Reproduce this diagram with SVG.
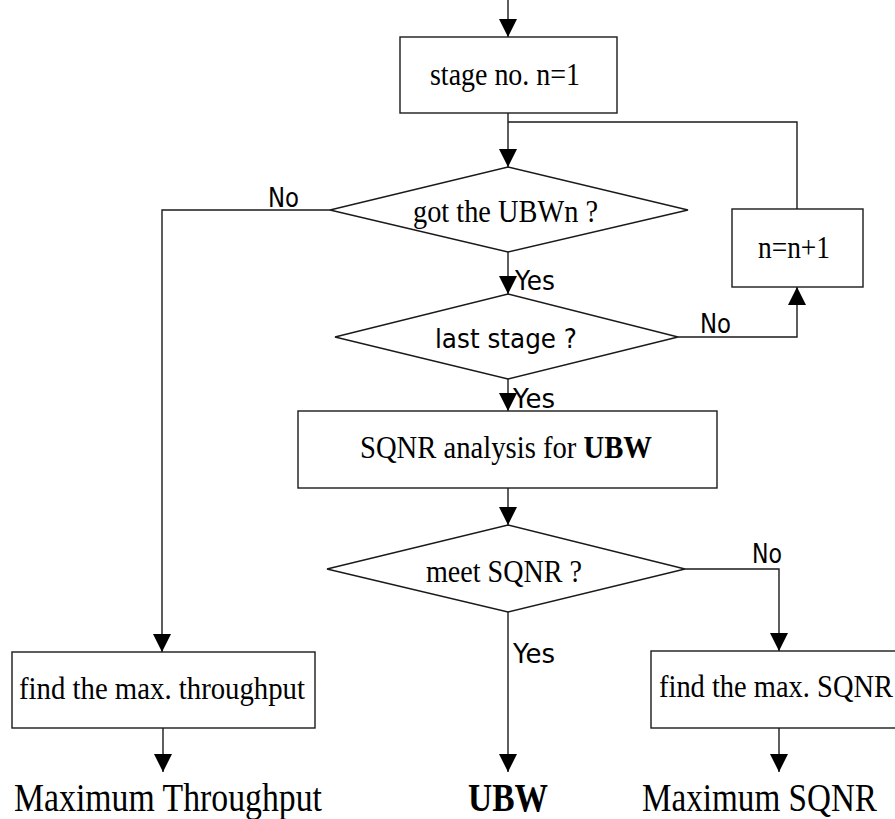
<svg xmlns="http://www.w3.org/2000/svg" width="895" height="819" viewBox="0 0 895 819">
  <defs>
    <marker id="arrow" viewBox="0 0 18 18" refX="18" refY="9" markerWidth="18" markerHeight="18" markerUnits="userSpaceOnUse" orient="auto">
      <path d="M0,0 L18,9 L0,18 Z" fill="#000"/>
    </marker>
    <style>
      .shape { fill: #fff; stroke: #1a1a1a; stroke-width: 1.4; }
      .line { fill: none; stroke: #1a1a1a; stroke-width: 1.4; }
      .flow { fill: none; stroke: #1a1a1a; stroke-width: 1.4; marker-end: url(#arrow); }
      .serif { font-family: "Liberation Serif", "Times New Roman", serif; font-size: 31px; fill: #000; }
      .big { font-family: "Liberation Serif", "Times New Roman", serif; font-size: 41px; fill: #000; }
      .label { font-family: "DejaVu Sans", Verdana, sans-serif; font-size: 27px; fill: #000; }
    </style>
  </defs>

  <rect width="895" height="819" fill="#fff"/>

  <!-- connectors -->
  <g id="connectors">
    <path class="flow" d="M508,0 V37"/>
    <path class="flow" d="M508,113 V167"/>
    <path class="line" d="M508,122 H797 V209"/>
    <path class="flow" d="M330,210 H162 V652"/>
    <path class="flow" d="M508,252 V294"/>
    <path class="flow" d="M678,337 H797 V287"/>
    <path class="flow" d="M508,379 V411"/>
    <path class="flow" d="M508,488 V525"/>
    <path class="flow" d="M685,569 H779 V651"/>
    <path class="flow" d="M508,612 V772"/>
    <path class="flow" d="M163,728 V772"/>
    <path class="flow" d="M779,728 V772"/>

    <text class="label" x="268" y="207" textLength="31" lengthAdjust="spacingAndGlyphs">No</text>
    <text class="label" x="515" y="290" textLength="40" lengthAdjust="spacingAndGlyphs">Yes</text>
    <text class="label" x="700" y="333" textLength="31" lengthAdjust="spacingAndGlyphs">No</text>
    <text class="label" x="513" y="408" textLength="42" lengthAdjust="spacingAndGlyphs">Yes</text>
    <text class="label" x="752" y="563" textLength="30" lengthAdjust="spacingAndGlyphs">No</text>
    <text class="label" x="513" y="663" textLength="42" lengthAdjust="spacingAndGlyphs">Yes</text>
  </g>

  <g id="stage-init">
    <rect class="shape" x="400" y="37" width="217" height="76"/>
    <text class="serif" x="430" y="85" textLength="150" lengthAdjust="spacingAndGlyphs">stage no. n=1</text>
  </g>

  <g id="got-ubwn">
    <polygon class="shape" points="508,167 688,210 508,252 330,210"/>
    <text class="serif" x="413" y="222" textLength="185" lengthAdjust="spacingAndGlyphs">got the UBWn ?</text>
  </g>

  <g id="increment">
    <rect class="shape" x="732" y="209" width="131" height="78"/>
    <text class="serif" x="758" y="258" textLength="72" lengthAdjust="spacingAndGlyphs">n=n+1</text>
  </g>

  <g id="last-stage">
    <polygon class="shape" points="508,294 678,337 508,379 335,337"/>
    <text class="label" x="435" y="348" textLength="142" lengthAdjust="spacingAndGlyphs">last stage ?</text>
  </g>

  <g id="sqnr-analysis">
    <rect class="shape" x="298" y="411" width="419" height="77"/>
    <text class="serif" x="360" y="458" textLength="292" lengthAdjust="spacingAndGlyphs">SQNR analysis for <tspan font-weight="bold">UBW</tspan></text>
  </g>

  <g id="meet-sqnr">
    <polygon class="shape" points="508,525 685,569 508,612 327,569"/>
    <text class="serif" x="426" y="582" textLength="156" lengthAdjust="spacingAndGlyphs">meet SQNR ?</text>
  </g>

  <g id="max-throughput">
    <rect class="shape" x="12" y="652" width="303" height="76"/>
    <text class="serif" x="19" y="699" textLength="286" lengthAdjust="spacingAndGlyphs">find the max. throughput</text>
  </g>

  <g id="max-sqnr">
    <rect class="shape" x="651" y="651" width="260" height="77"/>
    <text class="serif" x="659" y="697" textLength="234" lengthAdjust="spacingAndGlyphs">find the max. SQNR</text>
  </g>

  <g id="out-throughput">
    <text class="big" x="14" y="811" textLength="308" lengthAdjust="spacingAndGlyphs">Maximum Throughput</text>
  </g>

  <g id="out-ubw">
    <text class="big" x="468" y="811" font-weight="bold" textLength="80" lengthAdjust="spacingAndGlyphs">UBW</text>
  </g>

  <g id="out-sqnr">
    <text class="big" x="642" y="811" textLength="235" lengthAdjust="spacingAndGlyphs">Maximum SQNR</text>
  </g>
</svg>
